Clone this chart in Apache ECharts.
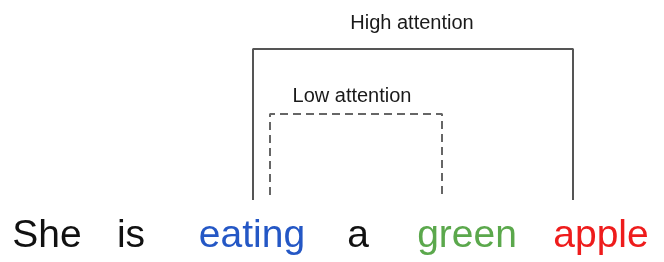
<!DOCTYPE html>
<html>
<head>
<meta charset="utf-8">
<script src="https://cdn.jsdelivr.net/npm/echarts@6/dist/echarts.min.js"></script>
<style>
  html, body { margin: 0; padding: 0; background: #fff; }
  #main { width: 664px; height: 262px; }
</style>
</head>
<body>
<div id="main"></div>
<script>
// sentence words and where they sit along the line
var words = ['She', 'is', 'eating', 'a', 'green', 'apple'];
var wordX = [47, 131, 252, 358, 467, 601];
var wordColors = ['#111111', '#111111', '#2457c5', '#111111', '#5ba84c', '#ee1c1c'];

// attention brackets (x, y in the same 664x262 space, y from top)
var highBox = [[253, 200], [253, 49], [573, 49], [573, 200]];
var lowBox = [[270, 195], [270, 114], [442, 114], [442, 195]];
var boxLabels = ['High attention', 'Low attention'];
var boxLabelPos = [[412, 23], [352, 96]];

var wordY = 236;
var font = '"Liberation Sans", Arial, Helvetica, sans-serif';

var myChart = echarts.init(document.getElementById('main'));

var option = {
    animation: false,
    grid: { left: 0, right: 0, top: 0, bottom: 0 },
    xAxis: { type: 'value', min: 0, max: 664, show: false },
    yAxis: { type: 'value', min: 0, max: 262, inverse: true, show: false },
    series: [
        {
            type: 'line',
            data: highBox,
            symbol: 'none',
            lineStyle: { color: '#555555', width: 2 }
        },
        {
            type: 'line',
            data: lowBox,
            symbol: 'none',
            lineStyle: { color: '#666666', width: 2, type: [8, 5] }
        },
        {
            type: 'scatter',
            symbolSize: 0,
            itemStyle: { opacity: 1 },
            data: boxLabels.map(function (t, i) {
                return { name: t, value: boxLabelPos[i] };
            }),
            label: {
                show: true,
                position: 'inside',
                formatter: '{b}',
                color: '#1a1a1a',
                fontSize: 20,
                fontFamily: font
            }
        },
        {
            type: 'scatter',
            symbolSize: 0,
            itemStyle: { opacity: 1 },
            data: words.map(function (w, i) {
                return { name: w, value: [wordX[i], wordY], label: { color: wordColors[i] } };
            }),
            label: {
                show: true,
                position: 'inside',
                formatter: '{b}',
                fontSize: 39,
                fontFamily: font
            }
        }
    ]
};

option && myChart.setOption(option);
</script>
</body>
</html>
